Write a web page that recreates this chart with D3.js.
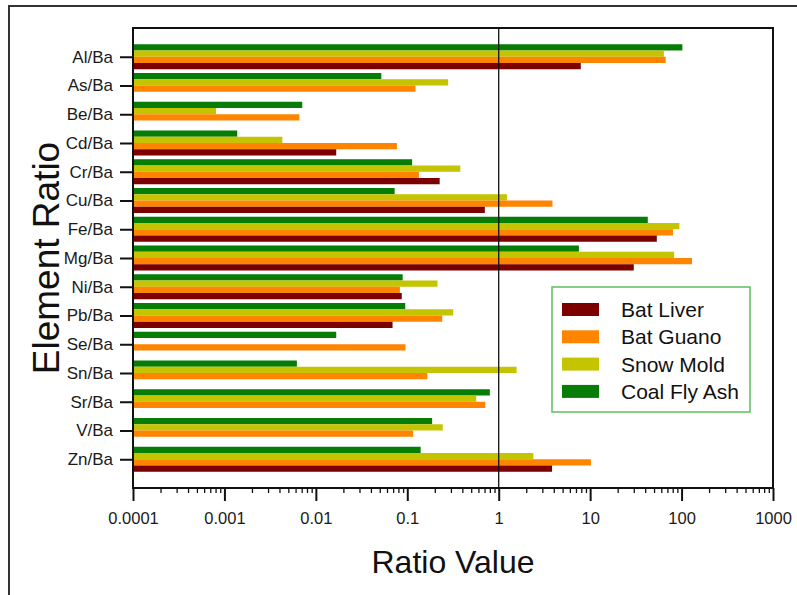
<!DOCTYPE html>
<html>
<head>
<meta charset="utf-8">
<script src="https://cdn.jsdelivr.net/npm/d3@7"></script>
<style>
  body { margin: 0; background: #fff; }
  svg { font-family: "Liberation Sans", Arial, sans-serif; }
</style>
</head>
<body>
<svg id="chart"></svg>
<script>
// data
var categories = ["Al/Ba","As/Ba","Be/Ba","Cd/Ba","Cr/Ba","Cu/Ba","Fe/Ba","Mg/Ba","Ni/Ba","Pb/Ba","Se/Ba","Sn/Ba","Sr/Ba","V/Ba","Zn/Ba"];
var seriesNames = ["Bat Liver","Bat Guano","Snow Mold","Coal Fly Ash"];
var batLiver   = [7.9, null, null, 0.0167, 0.226, 0.705, 53.6, 30, 0.087, 0.069, null, null, null, null, 3.83];
var batGuano   = [67, 0.123, 0.0066, 0.077, 0.134, 3.87, 80.5, 130, 0.083, 0.241, 0.0957, 0.166, 0.713, 0.116, 10.2];
var snowMold   = [64, 0.28, 0.00081, 0.0043, 0.38, 1.23, 94.6, 83, 0.214, 0.318, null, 1.57, 0.568, 0.244, 2.39];
var coalFlyAsh = [102, 0.052, 0.0071, 0.00138, 0.113, 0.0727, 42.7, 7.54, 0.089, 0.095, 0.0167, 0.0062, 0.80, 0.187, 0.140];
var majorTicks = [0.0001, 0.001, 0.01, 0.1, 1, 10, 100, 1000];
var tickLabels = ["0.0001","0.001","0.01","0.1","1","10","100","1000"];

var W = 797, H = 595;
var colors = ["#7d0000", "#ff8400", "#c4c400", "#077d07"];
var seriesData = [batLiver, batGuano, snowMold, coalFlyAsh];

var svg = d3.select("#chart").attr("width", W).attr("height", H);

var pLeft = 133, pRight = 773, pTop = 28, pBottom = 488;

// outer border
svg.append("rect")
  .attr("x", 9).attr("y", 6).attr("width", 820).attr("height", 620)
  .attr("fill", "none").attr("stroke", "#333").attr("stroke-width", 2);

var x = d3.scaleLog().domain([0.0001, 1000]).range([pLeft, pRight]);
var y = d3.scalePoint().domain(categories).range([pTop, pBottom]).padding(1);
var step = y.step();
var barH = step * 0.87 / 4;

// bars: from top green, yellow, orange, dark red
var barGroups = svg.append("g");
categories.forEach(function(c, i){
  var rows = [];
  for (var s = 3; s >= 0; s--) {
    rows.push({s: s, v: seriesData[s][i], k: 3 - s});
  }
  barGroups.selectAll(null)
    .data(rows.filter(function(d){ return d.v != null; }))
    .enter().append("rect")
    .attr("x", x(0.0001))
    .attr("y", function(d){ return y(c) - 2 * barH + d.k * barH; })
    .attr("width", function(d){ return x(d.v) - x(0.0001); })
    .attr("height", barH)
    .attr("fill", function(d){ return colors[d.s]; });
});

// reference line at 1
svg.append("line")
  .attr("x1", x(1)).attr("x2", x(1)).attr("y1", pTop).attr("y2", pBottom)
  .attr("stroke", "#111").attr("stroke-width", 1.3);

// frame
svg.append("rect")
  .attr("x", pLeft).attr("y", pTop).attr("width", pRight - pLeft).attr("height", pBottom - pTop)
  .attr("fill", "none").attr("stroke", "#111").attr("stroke-width", 2);

// minor ticks
var minors = [];
for (var e = -4; e < 3; e++) {
  for (var m = 2; m <= 9; m++) minors.push(m * Math.pow(10, e));
}
svg.append("g")
  .attr("transform", "translate(0," + pBottom + ")")
  .call(d3.axisBottom(x).tickValues(minors).tickSize(5).tickFormat(""))
  .call(function(g){ g.select(".domain").remove(); })
  .selectAll("line").attr("stroke", "#111").attr("stroke-width", 1.3);

// major ticks
var xAxis = svg.append("g")
  .attr("transform", "translate(0," + pBottom + ")")
  .call(d3.axisBottom(x).tickValues(majorTicks).tickSize(13).tickPadding(11)
    .tickFormat(function(d, i){ return tickLabels[i]; }));
xAxis.select(".domain").remove();
xAxis.selectAll("line").attr("stroke", "#111").attr("stroke-width", 2);
xAxis.selectAll("text").attr("font-size", 16.5).attr("fill", "#1a1a1a")
  .style("font-family", "'Liberation Sans', Arial, sans-serif");

var yAxis = svg.append("g")
  .attr("transform", "translate(" + pLeft + ",0)")
  .call(d3.axisLeft(y).tickSize(13).tickPadding(7));
yAxis.select(".domain").remove();
yAxis.selectAll("line").attr("stroke", "#111").attr("stroke-width", 2);
yAxis.selectAll("text").attr("font-size", 17).attr("fill", "#1a1a1a")
  .style("font-family", "'Liberation Sans', Arial, sans-serif");

// axis titles
svg.append("text")
  .attr("x", (pLeft + pRight) / 2).attr("y", 573)
  .attr("text-anchor", "middle").attr("font-size", 32).attr("fill", "#111")
  .text("Ratio Value");
svg.append("text")
  .attr("transform", "translate(59," + ((pTop + pBottom) / 2) + ") rotate(-90)")
  .attr("text-anchor", "middle").attr("font-size", 37).attr("fill", "#111")
  .text("Element Ratio");

// legend
var lg = svg.append("g");
lg.append("rect")
  .attr("x", 552).attr("y", 287).attr("width", 198).attr("height", 125)
  .attr("fill", "#fff").attr("stroke", "#5cc05c").attr("stroke-width", 1.5);
seriesNames.forEach(function(n, i){
  var cy = 309.5 + i * 27.3;
  lg.append("rect").attr("x", 562).attr("y", cy - 6.5).attr("width", 37).attr("height", 13)
    .attr("fill", colors[i]);
  lg.append("text").attr("x", 621).attr("y", cy + 7.5)
    .attr("font-size", 21).attr("fill", "#111").text(n);
});
</script>
</body>
</html>
